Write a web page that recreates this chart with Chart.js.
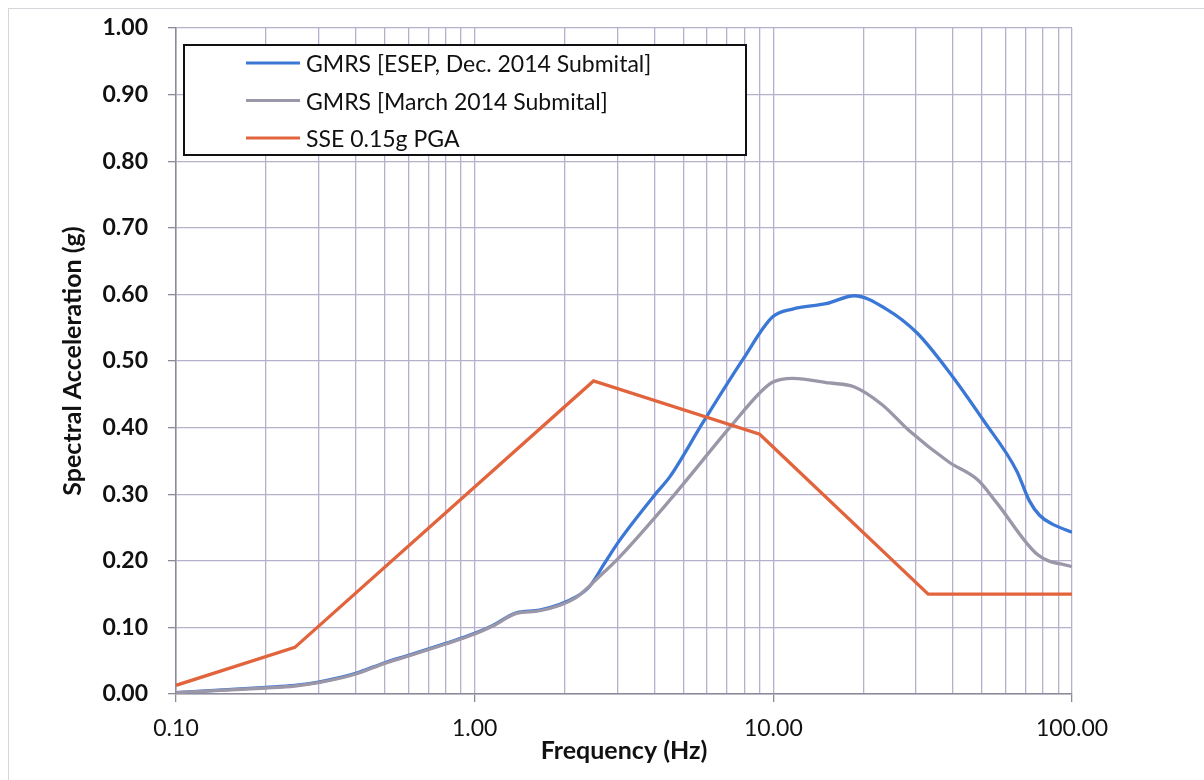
<!DOCTYPE html>
<html>
<head>
<meta charset="utf-8">
<title>Spectral Acceleration</title>
<script src="https://cdn.jsdelivr.net/npm/chart.js@4.4.0/dist/chart.umd.min.js"></script>
<style>
  body { margin: 0; background: #fff; overflow: hidden; }
  #wrap { position: absolute; left: 0; top: 0; width: 1204px; height: 780px; }
  #frame { position: absolute; left: 8px; top: 8px; width: 1210px; height: 790px; border-left: 1px solid #d6d6dc; border-top: 1px solid #d6d6dc; }
</style>
</head>
<body>
<div id="wrap">
  <div id="frame"></div>
  <canvas id="myChart" width="1204" height="780"></canvas>
</div>
<script>
// dane
const esepFreq = [0.1, 0.2, 0.25, 0.3, 0.4, 0.5, 0.6, 0.8, 1.0, 1.15, 1.38, 1.65, 2.19, 2.44, 2.71, 3.06, 4.06, 4.5, 5.8, 7.9, 9.93, 11.6, 15.0, 18.7, 23.9, 30.3, 39, 50.5, 65.3, 72, 78, 86, 100];
const esepSa   = [0.002, 0.010, 0.013, 0.018, 0.031, 0.047, 0.058, 0.076, 0.091, 0.103, 0.122, 0.126, 0.146, 0.163, 0.195, 0.231, 0.302, 0.326, 0.407, 0.502, 0.566, 0.578, 0.586, 0.598, 0.578, 0.542, 0.482, 0.411, 0.335, 0.290, 0.268, 0.255, 0.243];

const marchFreq = [0.1, 0.2, 0.25, 0.3, 0.4, 0.5, 0.6, 0.8, 1.0, 1.15, 1.38, 1.65, 2.17, 2.61, 3.06, 4.5, 7.17, 9.0, 9.93, 11.6, 15.4, 18.7, 23.2, 28.4, 38.8, 48.5, 56, 76.8, 100];
const marchSa   = [0.002, 0.009, 0.012, 0.017, 0.030, 0.046, 0.057, 0.075, 0.090, 0.102, 0.121, 0.125, 0.144, 0.176, 0.206, 0.291, 0.401, 0.452, 0.468, 0.474, 0.467, 0.461, 0.434, 0.396, 0.348, 0.321, 0.287, 0.209, 0.191];

const sseFreq = [0.1, 0.25, 2.5, 9, 33, 100];
const sseSa   = [0.013, 0.07, 0.47, 0.39, 0.15, 0.15];

const seriesLabels = ['GMRS [ESEP, Dec. 2014 Submital]', 'GMRS [March 2014 Submital]', 'SSE 0.15g PGA'];
const seriesColors = ['#3b78d6', '#9b96a8', '#e2643c'];

const xTicks = [0.1, 0.2, 0.3, 0.4, 0.5, 0.6, 0.7, 0.8, 0.9, 1, 2, 3, 4, 5, 6, 7, 8, 9, 10, 20, 30, 40, 50, 60, 70, 80, 90, 100];

function pairs (fx, fy) {
  let out = [];
  for (let i = 0; i < fx.length; i++) out.push({x: fx[i], y: fy[i]});
  return out;
}
function isDecade (v) {
  const l = Math.log10(v);
  return Math.abs(l - Math.round(l)) < 1e-6;
}

const gridColor = '#b7b0cc';
const axisColor = '#8c8a98';

// legenda w ramce wewnątrz wykresu
const boxLegend = {
  id: 'boxLegend',
  afterDatasetsDraw (chart) {
    const ctx = chart.ctx;
    const a = chart.chartArea;
    const x0 = a.left + 8, y0 = a.top + 17, w = 562, h = 110;
    ctx.save();
    ctx.fillStyle = '#fff';
    ctx.fillRect(x0, y0, w, h);
    ctx.strokeStyle = '#111';
    ctx.lineWidth = 2;
    ctx.strokeRect(x0, y0, w, h);
    ctx.font = '23px Lato';
    ctx.textBaseline = 'middle';
    ctx.fillStyle = '#111';
    chart.data.datasets.forEach((ds, i) => {
      const ly = y0 + 18 + i * 37.5;
      ctx.strokeStyle = ds.borderColor;
      ctx.lineWidth = 3;
      ctx.beginPath();
      ctx.moveTo(x0 + 62, ly);
      ctx.lineTo(x0 + 116, ly);
      ctx.stroke();
      ctx.fillText(ds.label, x0 + 122, ly + 2);
    });
    ctx.restore();
  }
};

const ctx = document.getElementById('myChart').getContext('2d');
const chart = new Chart(ctx, {
  type: 'line',
  data: {
    datasets: [
      { label: seriesLabels[0], data: pairs(esepFreq, esepSa), borderColor: seriesColors[0], borderWidth: 3.3, pointRadius: 0, cubicInterpolationMode: 'monotone', order: 3 },
      { label: seriesLabels[1], data: pairs(marchFreq, marchSa), borderColor: seriesColors[1], borderWidth: 3.3, pointRadius: 0, cubicInterpolationMode: 'monotone', order: 2 },
      { label: seriesLabels[2], data: pairs(sseFreq, sseSa), borderColor: seriesColors[2], borderWidth: 3.3, pointRadius: 0, tension: 0, order: 1 }
    ]
  },
  options: {
    responsive: false,
    animation: false,
    layout: { padding: { left: 0, right: 132, top: 28, bottom: 0 } },
    plugins: { legend: { display: false }, tooltip: { enabled: false } },
    scales: {
      x: {
        type: 'logarithmic',
        min: 0.1,
        max: 100,
        afterBuildTicks: (s) => { s.ticks = xTicks.map(v => ({ value: v, major: isDecade(v) })); },
        afterFit: (s) => { s.height = 86; s.paddingLeft = 0; s.paddingRight = 0; },
        ticks: {
          autoSkip: false,
          maxRotation: 0,
          padding: 13,
          color: '#111',
          font: { family: 'Lato', size: 23 },
          callback: (v) => isDecade(v) ? v.toFixed(2) : ''
        },
        grid: {
          color: gridColor,
          lineWidth: 1.3,
          tickLength: 8,
          tickColor: (c) => (c.tick && isDecade(c.tick.value)) ? axisColor : 'rgba(0,0,0,0)'
        },
        border: { color: axisColor, width: 1.5 },
        title: { display: true, text: 'Frequency (Hz)', color: '#111', font: { family: 'Lato', size: 25, weight: 'bold' }, padding: { top: 0, bottom: 14 } }
      },
      y: {
        min: 0,
        max: 1,
        afterFit: (s) => { s.width = 176; s.paddingTop = 0; s.paddingBottom = 0; },
        ticks: {
          stepSize: 0.1,
          padding: 20,
          color: '#111',
          font: { family: 'Lato', size: 23, weight: 'bold' },
          callback: (v) => v.toFixed(2)
        },
        grid: { color: gridColor, lineWidth: 1.3, tickLength: 8, tickColor: axisColor },
        border: { color: axisColor, width: 1.5 },
        title: { display: true, text: 'Spectral Acceleration (g)', color: '#111', font: { family: 'Lato', size: 25, weight: 'bold' }, padding: { top: 58, bottom: 0 } }
      }
    }
  },
  plugins: [boxLegend]
});
</script>
</body>
</html>
